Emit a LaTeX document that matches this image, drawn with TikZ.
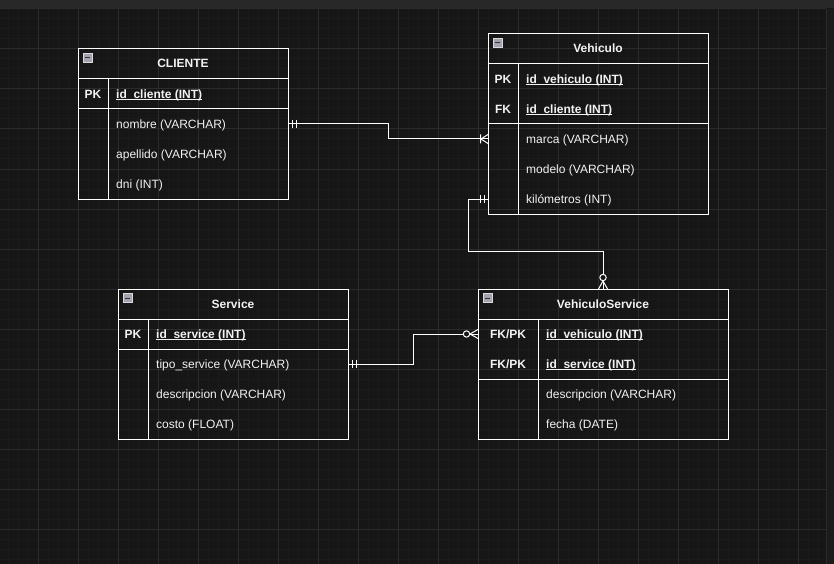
\documentclass[tikz,border=0pt]{standalone}
\usepackage{fontspec}
\setmainfont{Liberation Sans}
\usetikzlibrary{calc}
\definecolor{bg}{HTML}{161616}
\definecolor{gminor}{HTML}{1B1B1B}
\definecolor{gmajor}{HTML}{2B2B2B}
\definecolor{topband}{HTML}{282828}
\definecolor{rstrip}{HTML}{1B1B1B}
\definecolor{fg}{HTML}{F2F2F2}
\definecolor{iconfill}{HTML}{A4A4B0}
\definecolor{iconline}{HTML}{DADADA}
\newcommand\keyul[1]{\setbox0\hbox{\bfseries #1}\rlap{\rule[-2pt]{\wd0}{0.9pt}}\box0}
\tikzset{
 tl/.style={draw=white, line width=1pt},
 tblbox/.style={draw=white, line width=1pt, anchor=north west, inner sep=0pt, outer sep=0pt},
 rowbox/.style={minimum height=30pt, inner sep=0pt, outer sep=0pt, anchor=north west},
 ttl/.style={font=\fontsize{12}{14}\selectfont\bfseries, text=fg, anchor=base, inner sep=0pt},
 keytxt/.style={font=\fontsize{12}{14}\selectfont\bfseries, text=fg, anchor=base, inner sep=0pt},
 fldtxt/.style={font=\fontsize{12}{14}\selectfont, text=fg, anchor=base west, inner sep=0pt},
 conn/.style={draw=white, line width=1pt},
 mandone/.pic={\draw[conn] (4,-4)--(4,4) (8,-4)--(8,4);},
 onemany/.pic={\draw[conn] (0,-4.5)--(7,0)--(0,4.5) (7.5,-4.5)--(7.5,4.5);},
 zeromany/.pic={\draw[conn] (0,-4.5)--(8,0)--(0,4.5); \draw[conn, fill=bg] (11.5,0) circle (3.2pt);},
}
\newcommand\erowk[7]{%
  \node[rowbox, minimum width=#4pt] (#1) at (#2,#3) {};
  \node[keytxt] at ($(#1.west)+(#5/2,4.3)$) {#6};
  \node[fldtxt] at ($(#1.west)+(#5+8,4.3)$) {#7};
}
\newcommand\erow[6]{%
  \node[rowbox, minimum width=#4pt] (#1) at (#2,#3) {};
  \node[fldtxt] at ($(#1.west)+(#5+8,4.3)$) {#6};
}
\newcommand\ertable[6]{%
  \node[tblbox, minimum width=#4pt, minimum height=#5pt] (#1) at (#2,#3) {};
  \node[ttl] (#1-title) at ($(#1.north)+(0,19)$) {#6};
  \draw[draw=iconline, fill=iconfill, line width=0.6pt] ($(#1.north west)+(5.3,4.7)$) rectangle ++(8.5,8.5);
  \draw[line width=1pt, draw=black!80] ($(#1.north west)+(7.3,9)$) -- ++(4.5,0);
  \draw[tl] ($(#1.north west)+(0,30)$) -- ($(#1.north east)+(0,30)$);
}
\begin{document}
\begin{tikzpicture}[x=1pt,y=-1pt]
\useasboundingbox (0,0) rectangle (834,564);
% background and grid
\fill[bg] (0,0) rectangle (834,564);
\fill[rstrip] (826,9) rectangle (834,564);
\foreach \x in {8,18,...,818} \draw[gminor, line width=1pt] (\x,9) -- (\x,564);
\foreach \y in {19,29,...,559} \draw[gminor, line width=1pt] (0,\y) -- (826,\y);
\foreach \x in {38,78,...,798} \draw[gmajor, line width=1pt] (\x,9) -- (\x,564);
\foreach \y in {9,49,...,529} \draw[gmajor, line width=1pt] (0,\y) -- (826,\y);
\draw[gmajor, line width=1pt] (826,9) -- (826,564);
\fill[topband] (0,0) rectangle (834,8);

% CLIENTE
\ertable{cli}{78}{49}{210}{150}{CLIENTE}
\erowk{cli-id}{78}{79}{210}{30}{PK}{\keyul{id\_cliente (INT)}}
\erow{cli-nombre}{78}{109}{210}{30}{nombre (VARCHAR)}
\erow{cli-apellido}{78}{139}{210}{30}{apellido (VARCHAR)}
\erow{cli-dni}{78}{169}{210}{30}{dni (INT)}
\draw[tl] (108,79) -- (108,199);
\draw[tl] (78,109) -- (288,109);

% Vehiculo
\ertable{veh}{488}{34}{220}{180}{Vehiculo}
\erowk{veh-id}{488}{64}{220}{30}{PK}{\keyul{id\_vehiculo (INT)}}
\erowk{veh-cli}{488}{94}{220}{30}{FK}{\keyul{id\_cliente (INT)}}
\erow{veh-marca}{488}{124}{220}{30}{marca (VARCHAR)}
\erow{veh-modelo}{488}{154}{220}{30}{modelo (VARCHAR)}
\erow{veh-km}{488}{184}{220}{30}{kilómetros (INT)}
\draw[tl] (518,64) -- (518,214);
\draw[tl] (488,124) -- (708,124);

% Service
\ertable{svc}{118}{289}{230}{150}{Service}
\erowk{svc-id}{118}{319}{230}{30}{PK}{\keyul{id\_service (INT)}}
\erow{svc-tipo}{118}{349}{230}{30}{tipo\_service (VARCHAR)}
\erow{svc-desc}{118}{379}{230}{30}{descripcion (VARCHAR)}
\erow{svc-costo}{118}{409}{230}{30}{costo (FLOAT)}
\draw[tl] (148,319) -- (148,439);
\draw[tl] (118,349) -- (348,349);

% VehiculoService
\ertable{vs}{478}{289}{250}{150}{VehiculoService}
\erowk{vs-idv}{478}{319}{250}{60}{FK/PK}{\keyul{id\_vehiculo (INT)}}
\erowk{vs-ids}{478}{349}{250}{60}{FK/PK}{\keyul{id\_service (INT)}}
\erow{vs-desc}{478}{379}{250}{60}{descripcion (VARCHAR)}
\erow{vs-fecha}{478}{409}{250}{60}{fecha (DATE)}
\draw[tl] (538,319) -- (538,439);
\draw[tl] (478,379) -- (728,379);

% connectors
\draw[conn] (cli-nombre.east) -- ++(100,0) |- (veh-marca.west);
\pic at (cli-nombre.east) {mandone};
\pic[rotate=180] at (veh-marca.west) {onemany};

\draw[conn] (veh-km.west) -- ++(-20,0) -- ++(0,52) -| (vs.north);
\pic[rotate=180] at (veh-km.west) {mandone};
\pic[rotate=90] at (vs.north) {zeromany};

\draw[conn] (svc-tipo.east) -- ++(65,0) |- (vs-idv.west);
\pic at (svc-tipo.east) {mandone};
\pic[rotate=180] at (vs-idv.west) {zeromany};
\end{tikzpicture}
\end{document}
